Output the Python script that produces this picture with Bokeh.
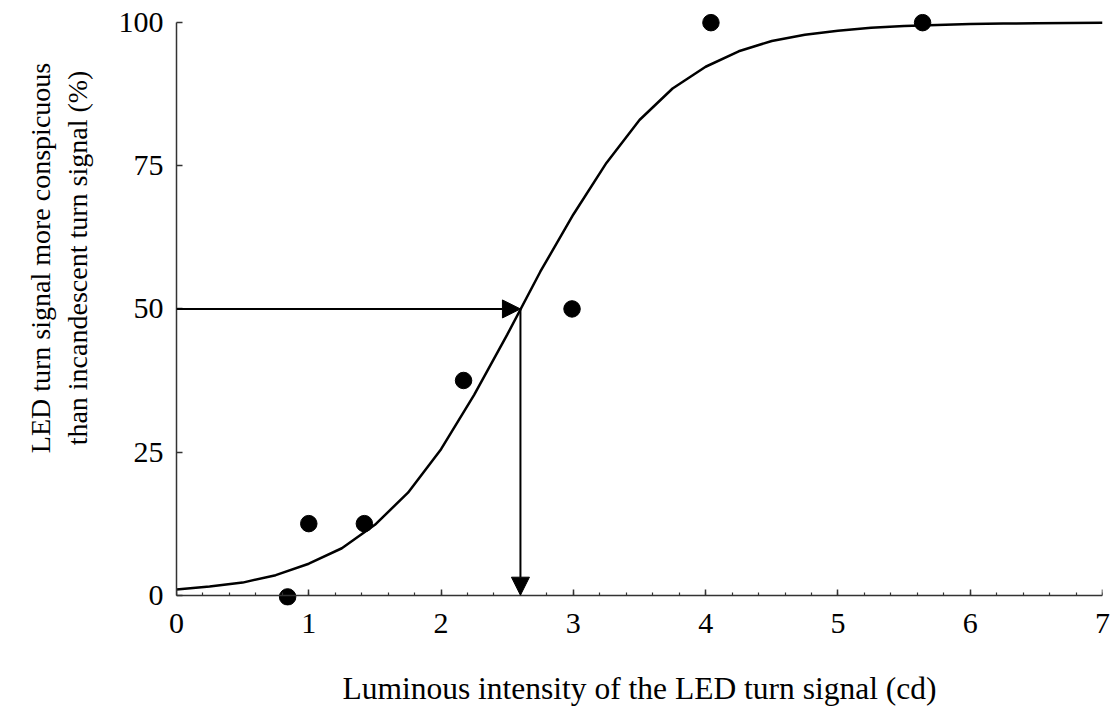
import math
from bokeh.plotting import figure
from bokeh.layouts import row
from bokeh.models import (Range1d, FixedTicker, Arrow, NormalHead, LinearAxis)
from bokeh.core.properties import value
from bokeh.embed import file_html
from bokeh.resources import INLINE

# Observed data points
obs_x = [0.84, 1.0, 1.42, 2.17, 2.99, 4.04, 5.64]
obs_y = [-0.3, 12.5, 12.5, 37.5, 50.0, 100.0, 100.0]

# Fitted curve
fit_x = [0.0, 0.25, 0.5, 0.75, 1.0, 1.25, 1.5, 1.75, 2.0, 2.25, 2.5, 2.75, 3.0,
         3.25, 3.5, 3.75, 4.0, 4.25, 4.5, 4.75, 5.0, 5.25, 5.5, 5.75, 6.0,
         6.25, 6.5, 6.75, 7.0]
fit_y = [1.0, 1.5, 2.2, 3.5, 5.5, 8.2, 12.3, 17.9, 25.5, 35.0, 45.5, 56.5, 66.5,
         75.5, 83.0, 88.5, 92.3, 95.0, 96.8, 97.9, 98.6, 99.1, 99.4, 99.6, 99.75,
         99.85, 99.9, 99.95, 100.0]

# 50 % threshold
thr_x = 2.6
thr_y = 50.0

# Ticks
x_major_ticks = [0, 1, 2, 3, 4, 5, 6, 7]
x_minor_ticks = [round(i * 0.2, 1) for i in range(36)]
y_ticks = [0, 25, 50, 75, 100]

x_title = "Luminous intensity of the LED turn signal (cd)"
y_title = "LED turn signal more conspicuous\nthan incandescent turn signal (%)"

FONT = "Liberation Serif"
AX = "#333333"
TOP, BOTTOM = 13, 104

y_range = Range1d(-1.8, 101.6)

p = figure(width=1000, height=709,
           x_range=Range1d(0, 7), y_range=y_range,
           output_backend="svg", toolbar_location=None,
           min_border_left=66, min_border_right=8,
           min_border_top=TOP, min_border_bottom=BOTTOM)
p.grid.visible = False
p.outline_line_color = None
p.background_fill_color = "white"
p.border_fill_color = "white"

# x axis line + minor ticks, sitting at y = 0
xa = p.xaxis[0]
xa.fixed_location = 0
xa.ticker = FixedTicker(ticks=[], minor_ticks=x_minor_ticks)
xa.axis_line_color = AX
xa.axis_line_width = 1.5
xa.major_tick_line_color = None
xa.minor_tick_in = 3
xa.minor_tick_out = 0
xa.minor_tick_line_color = AX
xa.minor_tick_line_width = 1.2
xa.major_label_standoff = 0

# x major ticks at y = 0
xm = LinearAxis(ticker=FixedTicker(ticks=[], minor_ticks=x_major_ticks))
xm.fixed_location = 0
xm.axis_line_color = None
xm.major_tick_line_color = None
xm.minor_tick_in = 6
xm.minor_tick_out = 0
xm.minor_tick_line_color = AX
xm.minor_tick_line_width = 1.5
xm.major_label_standoff = 0
p.add_layout(xm, "below")

# x tick labels + title
xl = LinearAxis(ticker=FixedTicker(ticks=x_major_ticks))
xl.axis_line_color = None
xl.major_tick_line_color = None
xl.minor_tick_line_color = None
xl.major_tick_in = 0
xl.major_tick_out = 0
xl.major_label_standoff = 8
xl.major_label_text_font = FONT
xl.major_label_text_font_size = "30px"
xl.major_label_text_color = "black"
xl.axis_label = x_title
xl.axis_label_text_font = FONT
xl.axis_label_text_font_size = "31.5px"
xl.axis_label_text_font_style = "normal"
xl.axis_label_text_color = "black"
xl.axis_label_standoff = 35
p.add_layout(xl, "below")

ya = p.yaxis[0]
ya.bounds = (0, 100)
ya.ticker = FixedTicker(ticks=y_ticks)
ya.axis_line_color = AX
ya.axis_line_width = 1.5
ya.major_tick_line_color = AX
ya.major_tick_line_width = 1.5
ya.major_tick_in = 6
ya.major_tick_out = 0
ya.minor_tick_line_color = None
ya.major_label_standoff = 13
ya.major_label_text_font = FONT
ya.major_label_text_font_size = "30px"
ya.major_label_text_color = "black"

p.line(fit_x, fit_y, line_color="black", line_width=2.5)
p.scatter(obs_x, obs_y, size=16.5, fill_color="black", line_color="black")

p.add_layout(Arrow(end=NormalHead(size=18, fill_color="black", line_color="black"),
                   x_start=0, y_start=thr_y, x_end=thr_x, y_end=thr_y,
                   line_color="black", line_width=2))
p.add_layout(Arrow(end=NormalHead(size=18, fill_color="black", line_color="black"),
                   x_start=thr_x, y_start=thr_y, x_end=thr_x, y_end=0,
                   line_color="black", line_width=2))

# Left strip holding the y-axis title (placed a little above the axis centre, as in the reference)
t = figure(width=110, height=709, x_range=Range1d(0, 1), y_range=y_range,
           x_axis_type=None, y_axis_type=None,
           output_backend="svg", toolbar_location=None,
           min_border_left=0, min_border_right=0,
           min_border_top=TOP, min_border_bottom=BOTTOM)
t.grid.visible = False
t.outline_line_color = None
t.background_fill_color = "white"
t.border_fill_color = "white"
t.text(x=[0.532], y=[58.9], text=[y_title], angle=math.pi / 2,
       text_align="center", text_baseline="middle",
       text_font=value(FONT), text_font_size="28px", text_color="black",
       text_line_height=1.2)

layout = row(t, p, spacing=0)
open("out.html", "w").write(file_html(layout, INLINE))
